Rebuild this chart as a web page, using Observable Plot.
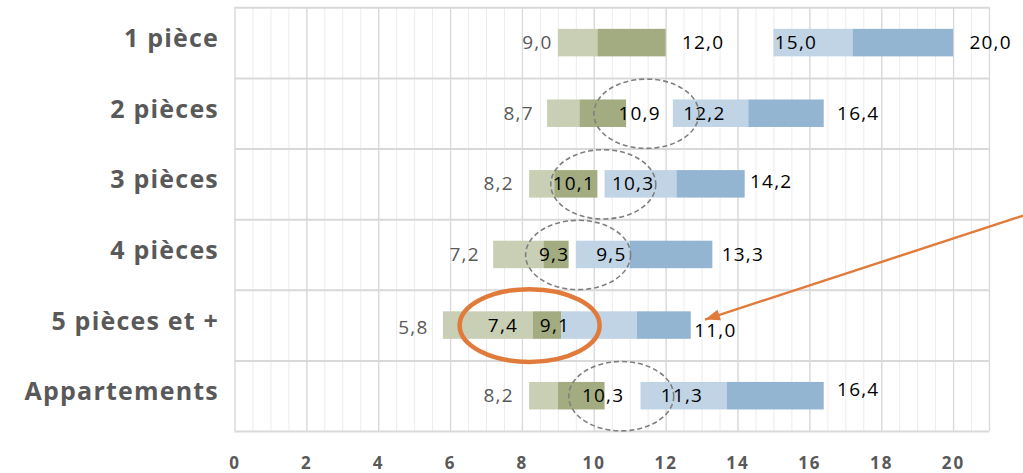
<!DOCTYPE html>
<html><head><meta charset="utf-8">
<script src="https://cdn.jsdelivr.net/npm/d3@7"></script>
<script src="https://cdn.jsdelivr.net/npm/@observablehq/plot@0.6"></script>
<style>
body{margin:0;background:#fff;}
#chart svg{overflow:visible;}
#chart g[aria-label="y-axis tick label"] text{letter-spacing:1.2px;}
#chart g[aria-label="x-axis tick label"] text{letter-spacing:2px;}
#chart g[aria-label="text"] text{letter-spacing:1.2px;}
</style>
</head><body><div id="chart"></div>
<script>
// ---- data ----
const categories = ["1 pièce","2 pièces","3 pièces","4 pièces","5 pièces et +","Appartements"];
const greenStart = [9.0, 8.7, 8.2, 7.2, 5.8, 8.2];
const greenMid   = [10.1, 9.6, 8.9, 8.6, 8.3, 9.0];
const greenEnd   = [12.0, 10.9, 10.1, 9.3, 9.1, 10.3];
const blueStart  = [15.0, 12.2, 10.3, 9.5, 9.1, 11.3];
const blueMid    = [17.2, 14.3, 12.3, 11.0, 11.2, 13.7];
const blueEnd    = [20.0, 16.4, 14.2, 13.3, 12.7, 16.4];
const labelLow       = ["9,0","8,7","8,2","7,2","5,8","8,2"];
const labelGreenHigh = ["12,0","10,9","10,1","9,3","7,4","10,3"];
const labelBlueLow   = ["15,0","12,2","10,3","9,5","9,1","11,3"];
const labelBlueHigh  = ["20,0","16,4","14,2","13,3","11,0","16,4"];
const xTicks = [0,2,4,6,8,10,12,14,16,18,20];
// annotations: dashed circles (row, x centre), highlight ellipse, arrow
const circledRows = ["2 pièces","3 pièces","4 pièces","Appartements"];
const circledAt   = [11.45, 10.25, 9.55, 10.75];
const highlightRow = "5 pièces et +";
const highlightAt  = 8.2;

// ---- layout ----
const W = 1023, H = 473;
const mL = 234.5, mR = 34, mT = 7.3, mB = 42;
const xMax = 21;
const pxPerUnit = (W - mL - mR) / xMax;
const bandPx = (H - mT - mB) / categories.length;
const barInset = (bandPx - 27.5) / 2;
// label offsets (px, middle anchored)
const dxLow       = [-21, -29, -31, -29, -30, -31];
const dxGreenHigh = [37, 13, -24, -15, -59, -2];
const dxBlueLow   = [22, 31, 28, 35, -7, 41];
const dxBlueHigh  = [37, 34, 26, 30, 24, 34];
const dyBlueHigh  = [0, 0, -0.03, 0, 0.08, -0.085];

const rows = categories.map((c, i) => ({
  i, c,
  gs: greenStart[i], gm: greenMid[i], ge: greenEnd[i],
  bs: blueStart[i], bm: blueMid[i], be: blueEnd[i]
}));
const px = (v, d) => v + d / pxPerUnit;

const labels = [];
rows.forEach((r, i) => {
  labels.push({x: px(r.gs, dxLow[i]), y: i + 0.5 + (i === 4 ? 0.03 : 0), t: labelLow[i], kind: "low"});
  labels.push({x: px(r.ge, dxGreenHigh[i]), y: i + 0.5, t: labelGreenHigh[i], kind: "dark"});
  labels.push({x: px(r.bs, dxBlueLow[i]), y: i + 0.5, t: labelBlueLow[i], kind: "dark"});
  labels.push({x: px(r.be, dxBlueHigh[i]), y: i + 0.5 + dyBlueHigh[i], t: labelBlueHigh[i], kind: "dark"});
});

const circles = circledRows.map((c, k) => ({x: circledAt[k], y: categories.indexOf(c) + 0.5}));
const highlight = [{x: highlightAt, y: categories.indexOf(highlightRow) + 0.5}];

const ellipse = ratio => ({
  draw(ctx, size) {
    const rx = Math.sqrt(size / Math.PI), ry = rx * ratio, k = 0.5523;
    ctx.moveTo(rx, 0);
    ctx.bezierCurveTo(rx, ry * k, rx * k, ry, 0, ry);
    ctx.bezierCurveTo(-rx * k, ry, -rx, ry * k, -rx, 0);
    ctx.bezierCurveTo(-rx, -ry * k, -rx * k, -ry, 0, -ry);
    ctx.bezierCurveTo(rx * k, -ry, rx, -ry * k, rx, 0);
    ctx.closePath();
  }
});
const arrowHead = {
  draw(ctx, size) {
    const r = Math.sqrt(size / Math.PI);
    ctx.moveTo(0, 0);
    ctx.lineTo(-1.1 * r, 3 * r);
    ctx.lineTo(1.1 * r, 3 * r);
    ctx.closePath();
  }
};
const arrowFrom = {x: 22.2, y: 2.9};
const arrowTo = {x: 13.08, y: 4.415};

const minorTicks = d3.range(0, xMax + 0.001, 0.5);
const majorTicks = d3.range(0, xMax + 0.001, 2).concat([xMax]);

const chart = Plot.plot({
  width: W, height: H,
  marginLeft: mL, marginRight: mR, marginTop: mT, marginBottom: mB,
  style: {fontFamily: "'Open Sans', sans-serif", background: "#fff", overflow: "visible"},
  x: {domain: [0, xMax]},
  y: {domain: [categories.length, 0]},
  marks: [
    Plot.ruleX(minorTicks, {stroke: "#ececec", strokeWidth: 1}),
    Plot.ruleX(majorTicks, {stroke: "#d9d9d9", strokeWidth: 1.3}),
    Plot.ruleY(d3.range(0, categories.length + 1), {stroke: "#d9d9d9", strokeWidth: 2}),
    Plot.rectX(rows, {x1: "gs", x2: "gm", y1: "i", y2: d => d.i + 1, fill: "#c9cfb4", insetTop: barInset, insetBottom: barInset}),
    Plot.rectX(rows, {x1: "gm", x2: "ge", y1: "i", y2: d => d.i + 1, fill: "#a3ac80", insetTop: barInset, insetBottom: barInset}),
    Plot.rectX(rows, {x1: "bs", x2: "bm", y1: "i", y2: d => d.i + 1, fill: "#c1d4e6", insetTop: barInset, insetBottom: barInset}),
    Plot.rectX(rows, {x1: "bm", x2: "be", y1: "i", y2: d => d.i + 1, fill: "#94b5d2", insetTop: barInset, insetBottom: barInset}),
    Plot.text(labels.filter(d => d.kind === "low"), {x: "x", y: "y", text: "t", fill: "#595959", fontSize: 19, textAnchor: "middle"}),
    Plot.text(labels.filter(d => d.kind === "dark"), {x: "x", y: "y", text: "t", fill: "#000", fontSize: 19, textAnchor: "middle"}),
    Plot.dot(circles, {x: "x", y: "y", r: 52.5, symbol: ellipse(0.66), stroke: "#7f7f7f", strokeWidth: 1.6, strokeDasharray: "5,3", fill: "none"}),
    Plot.dot(highlight, {x: "x", y: "y", r: 70, symbol: ellipse(0.52), stroke: "#e07b3c", strokeWidth: 4.5, fill: "none"}),
    Plot.link([{x1: arrowFrom.x, y1: arrowFrom.y, x2: arrowTo.x, y2: arrowTo.y}], {x1: "x1", y1: "y1", x2: "x2", y2: "y2", stroke: "#e07b3c", strokeWidth: 2.4}),
    Plot.dot([arrowTo], {x: "x", y: "y", r: 5, symbol: arrowHead, fill: "#e07b3c", stroke: "none", rotate: -108}),
    Plot.axisX({ticks: xTicks, tickSize: 0, tickPadding: 25, fontSize: 17, fontWeight: "bold", fill: "#595959", tickFormat: d => String(d)}),
    Plot.axisY({ticks: d3.range(categories.length).map(i => i + 0.5), tickFormat: v => categories[Math.floor(v)], tickSize: 0, tickPadding: 16, fontSize: 25, fontWeight: "bold", fill: "#595959", dy: -4})
  ]
});
document.getElementById("chart").appendChild(chart);
</script>
</body></html>
